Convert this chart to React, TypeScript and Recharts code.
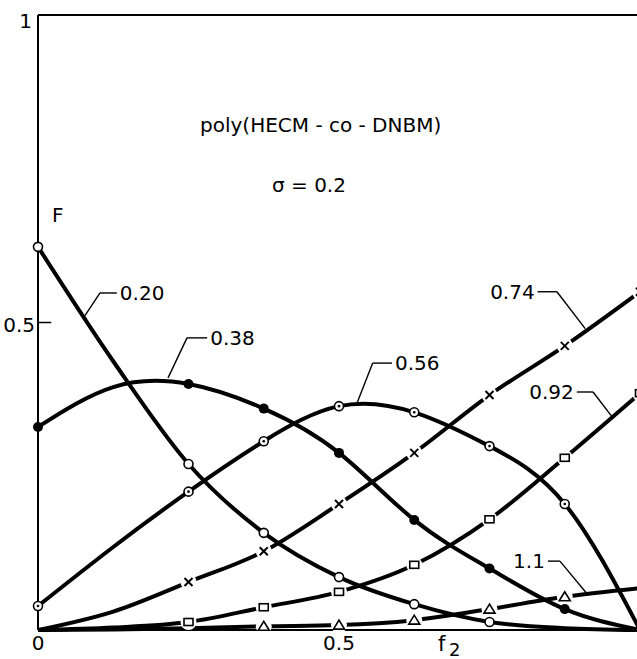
import { ComposedChart, Line, XAxis, YAxis, ReferenceLine, ReferenceDot } from 'recharts'

// F vs f2 for poly(HECM-co-DNBM), sigma = 0.2, one curve per eta value
const f2 = [0, 0.125, 0.25, 0.375, 0.5, 0.625, 0.75, 0.875, 1]
const s020 = [0.623, 0.437, 0.27, 0.158, 0.086, 0.042, 0.013, 0.003, 0]
const s038 = [0.33, 0.395, 0.4, 0.36, 0.288, 0.179, 0.1, 0.034, 0]
const s056 = [0.039, 0.135, 0.225, 0.307, 0.364, 0.354, 0.299, 0.205, 0]
const s074 = [0, 0.03, 0.078, 0.128, 0.205, 0.288, 0.382, 0.462, 0.55]
const s092 = [0, 0.004, 0.013, 0.037, 0.062, 0.106, 0.18, 0.28, 0.385]
const s110 = [0, 0.001, 0.003, 0.006, 0.008, 0.016, 0.034, 0.054, 0.068]

// which points carry a symbol in the figure
const marked020 = [0, 2, 3, 4, 5, 6]
const marked038 = [0, 2, 3, 4, 5, 6, 7]
const marked056 = [0, 2, 3, 4, 5, 6, 7]
const marked074 = [2, 3, 4, 5, 6, 7, 8]
const marked092 = [2, 3, 4, 5, 6, 7, 8]
const marked110 = [3, 4, 5, 6, 7]

const xTicks = [0, 0.5]
const yTicks = [0.5, 1]

const rows = f2.map((f, i) => ({
  f2: f,
  s020: s020[i],
  s038: s038[i],
  s056: s056[i],
  s074: s074[i],
  s092: s092[i],
  s110: s110[i],
}))

const FONT = '"DejaVu Sans", "Liberation Sans", sans-serif'

// leader lines: [point on curve, corner, end next to the text]
const leaders = [
  { text: '0.20', side: 'right', pts: [[0.078, 0.511], [0.103, 0.548], [0.131, 0.548]] },
  { text: '0.38', side: 'right', pts: [[0.216, 0.41], [0.2475, 0.475], [0.281, 0.475]] },
  { text: '0.56', side: 'right', pts: [[0.53, 0.369], [0.556, 0.434], [0.588, 0.434]] },
  { text: '0.74', side: 'left', pts: [[0.909, 0.49], [0.862, 0.55], [0.83, 0.55]] },
  { text: '0.92', side: 'left', pts: [[0.955, 0.345], [0.922, 0.387], [0.895, 0.387]] },
  { text: '1.1', side: 'left', pts: [[0.912, 0.059], [0.867, 0.112], [0.847, 0.112]] },
]

type Shape = 'ring' | 'dotring' | 'disc' | 'cross' | 'square' | 'triangle'

const makeDot = (shape: Shape, marked: number[]) => (props: any) => {
  const { cx, cy, index } = props
  if (!marked.includes(index) || cx == null || cy == null) return <g key={`n${index}`} />
  const sw = 1.6
  let mark = null
  if (shape === 'ring') {
    mark = <circle cx={cx} cy={cy} r={4.5} fill="#fff" stroke="#000" strokeWidth={sw} />
  } else if (shape === 'dotring') {
    mark = (
      <>
        <circle cx={cx} cy={cy} r={4.5} fill="#fff" stroke="#000" strokeWidth={sw} />
        <circle cx={cx} cy={cy} r={1.3} fill="#000" />
      </>
    )
  } else if (shape === 'disc') {
    mark = <circle cx={cx} cy={cy} r={5} fill="#000" />
  } else if (shape === 'cross') {
    mark = (
      <>
        <circle cx={cx} cy={cy} r={8} fill="#fff" />
        <line x1={cx - 4} y1={cy - 4} x2={cx + 4} y2={cy + 4} stroke="#000" strokeWidth={2} />
        <line x1={cx - 4} y1={cy + 4} x2={cx + 4} y2={cy - 4} stroke="#000" strokeWidth={2} />
      </>
    )
  } else if (shape === 'square') {
    mark = (
      <>
        <circle cx={cx} cy={cy} r={8} fill="#fff" />
        <rect x={cx - 4.5} y={cy - 3.5} width={9} height={7} fill="#fff" stroke="#000" strokeWidth={sw} />
      </>
    )
  } else {
    mark = (
      <>
        <circle cx={cx} cy={cy} r={8} fill="#fff" />
        <polygon
          points={`${cx},${cy - 5} ${cx - 5.5},${cy + 4} ${cx + 5.5},${cy + 4}`}
          fill="#fff"
          stroke="#000"
          strokeWidth={sw}
        />
      </>
    )
  }
  return <g key={`m${index}`}>{mark}</g>
}

const XTick = ({ x, y, payload }: any) => (
  <text x={x} y={y} dy={16} textAnchor="middle" fontSize={20} fontFamily={FONT} fill="#000">
    {payload.value === 0 ? '0' : String(payload.value)}
  </text>
)

const YTick = ({ x, y, payload }: any) => (
  <text
    x={payload.value === 1 ? x - 3 : x}
    y={y}
    dy={payload.value === 1 ? 13 : 9}
    textAnchor="end"
    fontSize={20}
    fontFamily={FONT}
    fill="#000"
  >
    {String(payload.value)}
  </text>
)

const curve = (key: string, type: any, shape: Shape, marked: number[]) => (
  <Line
    key={key}
    dataKey={key}
    type={type}
    stroke="#000"
    strokeWidth={4}
    dot={makeDot(shape, marked)}
    activeDot={false}
    isAnimationActive={false}
  />
)

export default function App() {
  return (
    <div style={{ position: 'absolute', left: 0, top: 0, width: 637, height: 659, background: '#fff' }}>
      <ComposedChart width={637} height={659} data={rows} margin={{ top: 15, right: -3, bottom: 0, left: 0 }}>
        <XAxis
          dataKey="f2"
          type="number"
          domain={[0, 1]}
          ticks={xTicks}
          height={29}
          tickSize={0}
          tickMargin={4}
          tickLine={false}
          axisLine={{ stroke: '#000', strokeWidth: 2 }}
          tick={<XTick />}
        />
        <YAxis
          type="number"
          domain={[0, 1]}
          ticks={yTicks}
          width={38}
          tickSize={0}
          tickMargin={3}
          tickLine={false}
          axisLine={{ stroke: '#000', strokeWidth: 2 }}
          tick={<YTick />}
        />
        <ReferenceLine y={1} stroke="#000" strokeWidth={2} />
        <ReferenceLine segment={[{ x: 0, y: 0.5 }, { x: 0.022, y: 0.5 }]} stroke="#000" strokeWidth={1.5} />
        <ReferenceLine segment={[{ x: 0.5, y: 0 }, { x: 0.5, y: 0.02 }]} stroke="#000" strokeWidth={1.5} />

        {curve('s074', 'monotone', 'cross', marked074)}
        {curve('s092', 'monotone', 'square', marked092)}
        {curve('s110', 'monotone', 'triangle', marked110)}
        {curve('s020', 'monotone', 'ring', marked020)}
        {curve('s038', 'natural', 'disc', marked038)}
        {curve('s056', 'natural', 'dotring', marked056)}

        {leaders.map((l) => [
          <ReferenceLine
            key={`${l.text}a`}
            segment={[{ x: l.pts[0][0], y: l.pts[0][1] }, { x: l.pts[1][0], y: l.pts[1][1] }]}
            stroke="#000"
            strokeWidth={1.4}
          />,
          <ReferenceLine
            key={`${l.text}b`}
            segment={[{ x: l.pts[1][0], y: l.pts[1][1] }, { x: l.pts[2][0], y: l.pts[2][1] }]}
            stroke="#000"
            strokeWidth={1.4}
          />,
          <ReferenceDot
            key={`${l.text}c`}
            x={l.pts[2][0]}
            y={l.pts[2][1]}
            r={0}
            fill="none"
            stroke="none"
            label={{
              value: l.text,
              position: l.side,
              offset: 3,
              fontSize: 20,
              fontFamily: FONT,
              fill: '#000',
            }}
          />,
        ])}
      </ComposedChart>
      <svg
        width={637}
        height={659}
        style={{ position: 'absolute', left: 0, top: 0, pointerEvents: 'none' }}
        fontFamily={FONT}
        fill="#000"
      >
        <text x={52} y={222} fontSize={20}>F</text>
        <text x={200} y={132} fontSize={20}>poly(HECM - co - DNBM)</text>
        <text x={272} y={192} fontSize={20}>σ = 0.2</text>
        <text x={438} y={651} fontSize={21}>f</text>
        <text x={449} y={656} fontSize={18}>2</text>
      </svg>
    </div>
  )
}
